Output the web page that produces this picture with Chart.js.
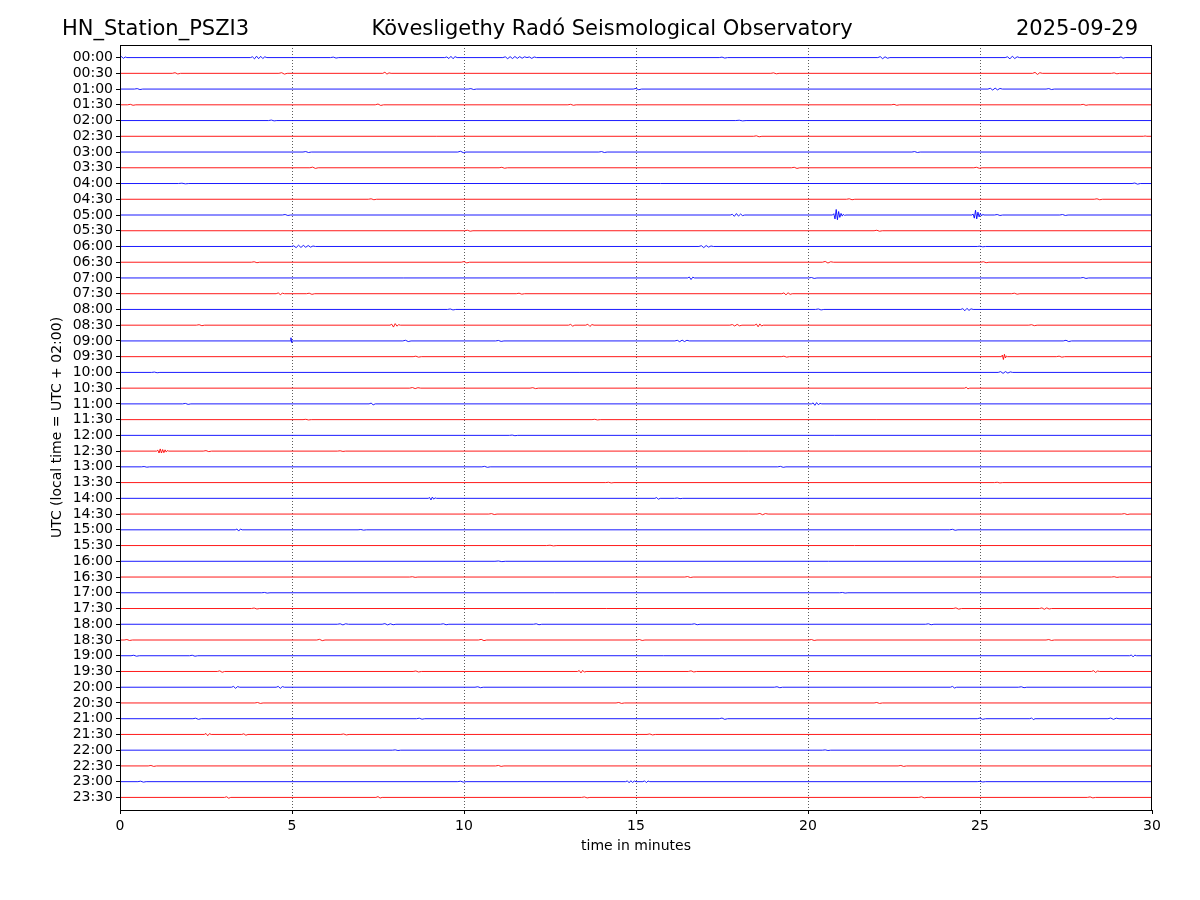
<!DOCTYPE html>
<html>
<head>
<meta charset="utf-8">
<script src="https://cdn.jsdelivr.net/npm/chart.js@4/dist/chart.umd.min.js"></script>
<style>
html,body{margin:0;padding:0;background:#fff;}
#wrap{width:1200px;height:900px;}
</style>
</head>
<body>
<div id="wrap"><canvas id="c" width="1200" height="900"></canvas></div>
<script>
// ---- data ----
const TITLE_LEFT = "HN_Station_PSZI3";
const TITLE_CENTER = "Kövesligethy Radó Seismological Observatory";
const TITLE_RIGHT = "2025-09-29";
const X_LABEL = "time in minutes";
const Y_LABEL = "UTC (local time = UTC + 02:00)";

const TRACE_LABELS = ["00:00","00:30","01:00","01:30","02:00","02:30","03:00","03:30","04:00","04:30","05:00","05:30","06:00","06:30","07:00","07:30","08:00","08:30","09:00","09:30","10:00","10:30","11:00","11:30","12:00","12:30","13:00","13:30","14:00","14:30","15:00","15:30","16:00","16:30","17:00","17:30","18:00","18:30","19:00","19:30","20:00","20:30","21:00","21:30","22:00","22:30","23:00","23:30"];
const TRACE_COLORS = ["#0000ff","#ff0000"];
const X_TICKS = [0,5,10,15,20,25,30];

// per trace: wiggle events [startMinute, sampleStepMinutes, [amplitudes in trace spacings, + = up]]
const TRACE_EVENTS = [
 /*00:00*/ [[0.05,0.05,[0.06,-0.05,0.04,0]],[3.85,0.06,[0.05,-0.08,0.09,-0.07,0.08,-0.06,0.05,0]],[6.2,0.08,[0.03,-0.03,0]],[9.5,0.06,[0.04,-0.06,0.08,-0.07,0.06,0]],[11.2,0.07,[0.05,-0.07,0.06,-0.06,0.07,-0.05,0.06,-0.04,0.05,0,0.04,-0.05,0.04,0]],[17.5,0.08,[0.03,-0.03,0]],[22.1,0.07,[0.06,-0.07,0.05,-0.04,0]],[25.8,0.07,[0.05,-0.08,0.09,-0.06,0.05,0]],[29.1,0.06,[0.04,-0.04,0]]],
 /*00:30*/ [[1.6,0.08,[0.04,-0.04,0]],[4.7,0.08,[0.04,-0.05,0]],[7.7,0.06,[0.07,-0.05,0.03,0]],[19.0,0.08,[0.03,-0.03,0]],[26.6,0.07,[0.06,-0.07,0.04,0]],[28.9,0.08,[0.03,-0.03,0]]],
 /*01:00*/ [[0.5,0.08,[0.03,-0.03,0]],[10.2,0.08,[0.03,-0.03,0]],[15.0,0.08,[0.04,-0.04,0]],[25.3,0.07,[0.05,-0.06,0.06,-0.05,0.04,0]],[27.0,0.08,[0.03,-0.03,0]]],
 /*01:30*/ [[0.3,0.08,[0.03,-0.03,0]],[7.5,0.08,[0.05,-0.04,0]],[13.1,0.08,[0.03,-0.03,0]],[22.5,0.08,[0.03,-0.03,0]],[28.0,0.08,[0.03,-0.03,0]]],
 /*02:00*/ [[4.4,0.08,[0.03,-0.02,0]],[18.0,0.1,[0.02,-0.02,0]]],
 /*02:30*/ [[18.5,0.08,[0.03,-0.03,0]],[29.8,0.05,[0.02,0]]],
 /*03:00*/ [[5.4,0.08,[0.03,-0.03,0]],[9.9,0.08,[0.05,-0.04,0]],[14.0,0.08,[0.03,-0.03,0]],[23.1,0.08,[0.03,-0.03,0]]],
 /*03:30*/ [[5.6,0.08,[0.04,-0.04,0]],[11.1,0.08,[0.03,-0.03,0]],[19.6,0.08,[0.03,-0.04,0]],[24.9,0.08,[0.03,-0.03,0]]],
 /*04:00*/ [[1.8,0.1,[0.02,-0.02,0]],[29.5,0.08,[0.03,-0.04,0]]],
 /*04:30*/ [[7.3,0.08,[0.03,-0.03,0]],[21.2,0.08,[0.03,-0.03,0]],[28.4,0.08,[0.03,-0.03,0]]],
 /*05:00*/ [[4.8,0.08,[0.03,-0.03,0]],[17.8,0.06,[0.04,-0.08,0.09,-0.07,0.06,-0.04,0]],[20.75,0.035,[0.08,-0.25,0.35,-0.3,0.22,-0.15,0.1,-0.07,0.05,-0.03,0]],[24.8,0.035,[0.06,-0.2,0.3,-0.25,0.18,-0.12,0.1,-0.06,0.04,0]],[25.5,0.08,[0.03,-0.03,0]],[27.4,0.08,[0.03,-0.03,0]]],
 /*05:30*/ [[10.1,0.08,[0.03,-0.03,0]],[22.0,0.08,[0.03,-0.03,0]]],
 /*06:00*/ [[5.05,0.07,[0.04,-0.07,0.08,-0.06,0.07,-0.05,0.06,-0.04,0.03,0]],[16.9,0.07,[0.05,-0.07,0.06,-0.04,0.03,0]],[25.0,0.08,[0.02,-0.02,0]]],
 /*06:30*/ [[3.9,0.08,[0.03,-0.03,0]],[10.0,0.08,[0.04,-0.04,0]],[20.5,0.08,[0.05,-0.05,0.03,0]],[25.1,0.08,[0.03,-0.03,0]]],
 /*07:00*/ [[16.55,0.05,[0.06,-0.1,0.05,0]],[20.1,0.08,[0.03,-0.03,0]],[28.0,0.08,[0.03,-0.03,0]]],
 /*07:30*/ [[4.6,0.06,[0.05,-0.06,0.03,0]],[5.5,0.08,[0.03,-0.04,0]],[11.6,0.08,[0.03,-0.03,0]],[19.3,0.06,[0.05,-0.07,0.06,-0.04,0]],[26.0,0.08,[0.03,-0.03,0]]],
 /*08:00*/ [[9.6,0.08,[0.03,-0.03,0]],[20.3,0.08,[0.03,-0.03,0]],[24.5,0.06,[0.05,-0.08,0.07,-0.06,0.04,0]]],
 /*08:30*/ [[2.3,0.08,[0.03,-0.03,0]],[7.9,0.05,[0.06,-0.12,0.1,-0.06,0.03,0]],[13.1,0.06,[0.05,-0.06,0]],[13.6,0.06,[0.06,-0.08,0.04,0]],[17.8,0.07,[0.04,-0.05,0.05,-0.04,0]],[18.5,0.05,[0.07,-0.1,0.08,-0.05,0]],[26.5,0.08,[0.03,-0.03,0]]],
 /*09:00*/ [[4.97,0.02,[0.2,-0.1,0]],[8.3,0.08,[0.04,-0.04,0]],[11.0,0.08,[0.03,-0.03,0]],[16.2,0.07,[0.04,-0.05,0.05,-0.04,0.04,0]],[27.5,0.08,[0.04,-0.04,0]]],
 /*09:30*/ [[8.6,0.08,[0.03,-0.03,0]],[19.3,0.08,[0.03,-0.03,0]],[25.65,0.03,[0.1,-0.18,0.15,-0.08,0.04,0]],[27.3,0.08,[0.03,-0.03,0]]],
 /*10:00*/ [[1.0,0.08,[0.02,-0.02,0]],[25.6,0.07,[0.05,-0.06,0.05,-0.04,0.03,0]]],
 /*10:30*/ [[8.5,0.08,[0.04,-0.03,0.03,0]],[12.0,0.08,[0.03,-0.03,0]],[24.6,0.05,[0.05,-0.04,0]]],
 /*11:00*/ [[1.9,0.08,[0.03,-0.03,0]],[7.3,0.06,[0.05,-0.06,0]],[20.15,0.05,[0.06,-0.09,0.08,-0.05,0.03,0]]],
 /*11:30*/ [[5.4,0.08,[0.02,-0.02,0]],[13.8,0.08,[0.02,-0.02,0]]],
 /*12:00*/ [[11.4,0.08,[0.02,-0.02,0]]],
 /*12:30*/ [[1.1,0.035,[0.06,-0.12,0.14,-0.12,0.1,-0.1,0.08,-0.06,0.04,0]],[2.5,0.08,[0.03,-0.03,0]],[6.4,0.08,[0.02,-0.02,0]]],
 /*13:00*/ [[0.7,0.08,[0.02,-0.02,0]],[10.6,0.08,[0.03,-0.03,0]],[19.2,0.08,[0.03,-0.03,0]]],
 /*13:30*/ [[14.2,0.08,[0.02,-0.02,0]],[25.5,0.08,[0.02,-0.02,0]]],
 /*14:00*/ [[9.0,0.04,[0.05,-0.1,0.08,-0.05,0.03,0]],[15.6,0.05,[0.05,-0.06,0]],[16.2,0.08,[0.02,-0.02,0]]],
 /*14:30*/ [[10.8,0.08,[0.03,-0.03,0]],[18.6,0.08,[0.04,-0.04,0.03,0]],[29.2,0.08,[0.03,-0.03,0]]],
 /*15:00*/ [[3.4,0.05,[0.05,-0.08,0.05,0]],[7.0,0.08,[0.02,-0.02,0]],[24.2,0.08,[0.03,-0.03,0]]],
 /*15:30*/ [[12.5,0.1,[0.02,-0.02,0]]],
 /*16:00*/ [[11.0,0.1,[0.02,-0.02,0]]],
 /*16:30*/ [[8.5,0.08,[0.02,-0.02,0]],[16.5,0.08,[0.03,-0.03,0]],[28.9,0.08,[0.02,-0.02,0]]],
 /*17:00*/ [[4.2,0.08,[0.02,-0.02,0]],[21.0,0.08,[0.02,-0.02,0]]],
 /*17:30*/ [[3.9,0.08,[0.03,-0.03,0]],[24.3,0.08,[0.04,-0.04,0]],[26.8,0.07,[0.04,-0.05,0.04,-0.03,0]]],
 /*18:00*/ [[6.4,0.08,[0.03,-0.04,0.03,0]],[7.7,0.08,[0.04,-0.04,0.03,-0.03,0]],[9.4,0.08,[0.03,-0.03,0]],[12.1,0.08,[0.03,-0.03,0]],[16.7,0.08,[0.03,-0.03,0]],[23.5,0.08,[0.03,-0.03,0]]],
 /*18:30*/ [[0.2,0.08,[0.03,-0.03,0]],[5.8,0.08,[0.04,-0.04,0]],[10.5,0.08,[0.04,-0.04,0]],[15.1,0.08,[0.03,-0.03,0]],[20.1,0.08,[0.03,-0.03,0]],[27.0,0.08,[0.03,-0.03,0]]],
 /*19:00*/ [[0.4,0.08,[0.03,-0.03,0]],[2.1,0.08,[0.03,-0.03,0]],[29.4,0.05,[0.05,-0.07,0.04,0]]],
 /*19:30*/ [[2.9,0.07,[0.04,-0.05,0]],[8.6,0.08,[0.03,-0.03,0]],[13.35,0.05,[0.06,-0.09,0.07,-0.04,0]],[16.6,0.08,[0.04,-0.03,0]],[28.3,0.06,[0.05,-0.06,0.03,0]]],
 /*20:00*/ [[3.3,0.06,[0.05,-0.07,0.04,0]],[4.6,0.06,[0.05,-0.07,0.04,0]],[10.4,0.08,[0.03,-0.03,0]],[19.1,0.08,[0.03,-0.03,0]],[24.2,0.06,[0.05,-0.05,0]],[26.2,0.08,[0.03,-0.03,0]]],
 /*20:30*/ [[4.0,0.08,[0.03,-0.03,0]],[14.5,0.08,[0.03,-0.03,0]],[22.0,0.08,[0.03,-0.03,0]]],
 /*21:00*/ [[2.2,0.08,[0.03,-0.04,0]],[8.7,0.08,[0.03,-0.03,0]],[17.5,0.08,[0.04,-0.04,0]],[25.0,0.08,[0.04,-0.04,0]],[26.5,0.05,[0.05,-0.06,0]],[28.8,0.08,[0.04,-0.04,0.03,0]]],
 /*21:30*/ [[2.5,0.05,[0.06,-0.08,0.05,0]],[3.6,0.06,[0.04,-0.05,0]],[6.5,0.08,[0.03,-0.03,0]],[15.4,0.08,[0.03,-0.03,0]]],
 /*22:00*/ [[8.0,0.08,[0.02,-0.02,0]],[20.5,0.08,[0.02,-0.02,0]]],
 /*22:30*/ [[0.9,0.08,[0.03,-0.03,0]],[11.0,0.08,[0.03,-0.03,0]],[22.7,0.08,[0.03,-0.03,0]]],
 /*23:00*/ [[0.6,0.08,[0.03,-0.03,0]],[9.9,0.08,[0.03,-0.03,0]],[14.75,0.05,[0.05,-0.07,0.06,-0.05,0.04,0]],[15.25,0.05,[0.05,-0.06,0.04,0]],[25.0,0.08,[0.02,-0.02,0]]],
 /*23:30*/ [[3.1,0.06,[0.04,-0.05,0]],[7.5,0.06,[0.05,-0.04,0]],[13.5,0.08,[0.03,-0.03,0]],[23.3,0.08,[0.04,-0.03,0]],[28.2,0.08,[0.03,-0.03,0]]]
];

// ---- build datasets ----
function buildTrace(i){
  const pts = [{x:0, y:i}];
  const evs = TRACE_EVENTS[i].slice().sort((a,b)=>a[0]-b[0]);
  for (const [t0, dt, amps] of evs){
    pts.push({x:t0 - dt, y:i});
    amps.forEach((a,k)=>pts.push({x:t0 + k*dt, y:i - a}));
  }
  pts.push({x:30, y:i});
  return pts;
}
const datasets = TRACE_LABELS.map((lab,i)=>({
  label: lab,
  data: buildTrace(i),
  borderColor: TRACE_COLORS[i % 2],
  borderWidth: 0.9,
  pointRadius: 0,
  tension: 0,
  fill: false
}));

Chart.defaults.font.family = "'DejaVu Sans', sans-serif";
Chart.defaults.color = "#000";

const framePlugin = {
  id: 'frame',
  afterDraw(chart){
    const {ctx, chartArea:a} = chart;
    ctx.save();
    ctx.strokeStyle = '#000';
    ctx.lineWidth = 1;
    ctx.strokeRect(Math.round(a.left)+0.5, Math.round(a.top)+0.5, Math.round(a.right-a.left)-1, Math.round(a.bottom-a.top));
    ctx.fillStyle = '#000';
    ctx.font = "21px 'DejaVu Sans'";
    ctx.textBaseline = 'middle';
    ctx.textAlign = 'left';
    ctx.fillText(TITLE_LEFT, 62, 30);
    ctx.textAlign = 'center';
    ctx.fillText(TITLE_CENTER, 612, 30);
    ctx.textAlign = 'right';
    ctx.fillText(TITLE_RIGHT, 1138, 30);
    ctx.restore();
  }
};

new Chart(document.getElementById('c'), {
  type: 'line',
  data: { datasets },
  plugins: [framePlugin],
  options: {
    responsive: false,
    animation: false,
    devicePixelRatio: 1,
    parsing: false,
    normalized: true,
    layout: { padding: { left: 49, top: 45, right: 48, bottom: 45 } },
    plugins: { legend: { display: false }, tooltip: { enabled: false } },
    scales: {
      x: {
        type: 'linear', min: 0, max: 30,
        afterBuildTicks: s => { s.ticks = X_TICKS.map(v=>({value:v})); },
        afterFit: s => { s.height = 45; },
        ticks: { font: { size: 14 }, padding: 4, maxRotation: 0, autoSkip: false },
        grid: {
          color: c => (c.tick && (c.tick.value === 0 || c.tick.value === 30)) ? 'rgba(0,0,0,0)' : '#333',
          lineWidth: 0.8,
          tickColor: '#000', tickLength: 4, tickWidth: 1
        },
        border: { display: false, dash: [1, 2] },
        title: { display: true, text: X_LABEL, font: { size: 14 }, padding: { top: 0, bottom: 0 } }
      },
      y: {
        type: 'linear', reverse: true, min: -0.8, max: 47.8,
        afterBuildTicks: s => { s.ticks = TRACE_LABELS.map((_,i)=>({value:i})); },
        afterFit: s => { s.width = 71; },
        ticks: { font: { size: 14 }, padding: 3, autoSkip: false, callback: v => TRACE_LABELS[v] },
        grid: { drawOnChartArea: false, color: '#000', tickLength: 4, tickWidth: 1 },
        border: { display: false },
        title: { display: true, text: Y_LABEL, font: { size: 14 }, padding: { top: 0, bottom: 0 } }
      }
    }
  }
});
</script>
</body>
</html>
